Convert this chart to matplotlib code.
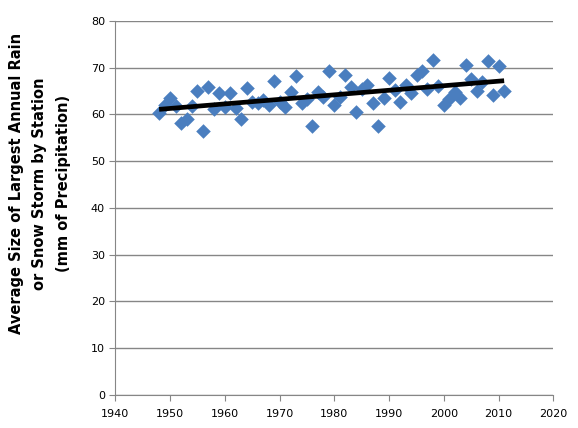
import numpy as np
from matplotlib import pyplot as plt

# Yearly values
years = list(range(1948, 2012))
storm_size = [
    60.2, 61.9, 63.5, 61.7, 58.2, 59.0, 61.7, 64.9, 56.4, 65.8,
    61.2, 64.6, 61.5, 64.6, 61.4, 59.0, 65.7, 62.6, 62.4, 63.1,
    62.0, 67.1, 62.7, 61.5, 64.7, 68.1, 62.4, 63.3, 57.4, 64.7,
    63.7, 69.2, 62.0, 63.7, 68.5, 65.8, 60.4, 65.5, 66.3, 62.5,
    57.6, 63.5, 67.8, 65.2, 62.6, 66.2, 64.6, 68.3, 69.2, 65.5,
    71.7, 66.0, 61.9, 63.3, 64.7, 63.5, 70.6, 67.6, 64.9, 66.9,
    71.4, 64.2, 70.3, 64.9,
]
x_ticks = list(range(1940, 2021, 10))
y_ticks = list(range(0, 81, 10))

grid_col = "#868686"
blue = "#4A7EBF"

fig = plt.figure(figsize=(5.78, 4.28), dpi=100)
ax = fig.add_axes([0.1995, 0.0771, 0.758, 0.8745])

ax.scatter(years, storm_size, marker="D", s=55, color=blue, linewidths=0, zorder=3)

# linear trend line
slope, icpt = np.polyfit(years, storm_size, 1)
tx = np.array([years[0], years[-1]])
ax.plot(tx, slope * tx + icpt, color="black", lw=3.4, solid_capstyle="butt", zorder=4)

ax.set_xlim(1940, 2020)
ax.set_ylim(0, 80)
ax.set_xticks(x_ticks)
ax.set_yticks(y_ticks)
ax.yaxis.grid(True, color=grid_col, lw=1)
ax.set_axisbelow(True)
for s in ["top", "right"]:
    ax.spines[s].set_visible(False)
for s in ["left", "bottom"]:
    ax.spines[s].set_color(grid_col)
ax.tick_params(axis="both", direction="out", length=4, color=grid_col, labelsize=8)
ax.tick_params(axis="x", pad=6)

fig.text(
    0.069, 0.571,
    "Average Size of Largest Annual Rain\nor Snow Storm by Station\n(mm of Precipitation)",
    rotation=90, ha="center", va="center", multialignment="center",
    fontsize=10.5, fontweight="bold", linespacing=1.7,
)

fig.savefig("out.png", dpi=100)
